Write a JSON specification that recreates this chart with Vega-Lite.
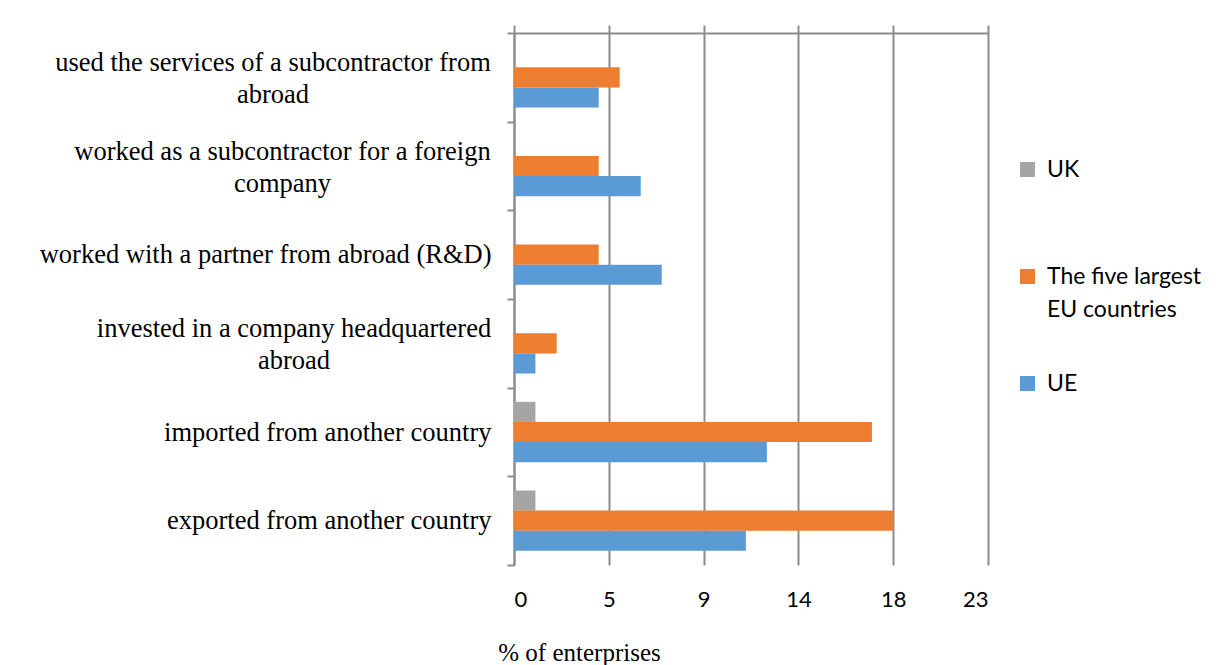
{
  "$schema": "https://vega.github.io/schema/vega-lite/v6.json",
  "width": 474,
  "height": 532,
  "padding": {"left": 0, "top": 20, "right": 0, "bottom": 0},
  "background": "white",
  "data": {
    "values": [
      {"activity": "used the services of a subcontractor from abroad", "series": "The five largest EU countries", "value": 5.13},
      {"activity": "used the services of a subcontractor from abroad", "series": "UE", "value": 4.11},
      {"activity": "worked as a subcontractor for a foreign company", "series": "The five largest EU countries", "value": 4.11},
      {"activity": "worked as a subcontractor for a foreign company", "series": "UE", "value": 6.15},
      {"activity": "worked with a partner from abroad (R&D)", "series": "The five largest EU countries", "value": 4.11},
      {"activity": "worked with a partner from abroad (R&D)", "series": "UE", "value": 7.17},
      {"activity": "invested in a company headquartered abroad", "series": "The five largest EU countries", "value": 2.07},
      {"activity": "invested in a company headquartered abroad", "series": "UE", "value": 1.04},
      {"activity": "imported from another country", "series": "UK", "value": 1.04},
      {"activity": "imported from another country", "series": "The five largest EU countries", "value": 17.37},
      {"activity": "imported from another country", "series": "UE", "value": 12.27},
      {"activity": "exported from another country", "series": "UK", "value": 1.04},
      {"activity": "exported from another country", "series": "The five largest EU countries", "value": 18.41},
      {"activity": "exported from another country", "series": "UE", "value": 11.25}
    ]
  },
  "layer": [
    {
      "mark": {"type": "bar"},
      "encoding": {
        "y": {
          "field": "activity",
          "type": "nominal",
          "sort": [
            "used the services of a subcontractor from abroad",
            "worked as a subcontractor for a foreign company",
            "worked with a partner from abroad (R&D)",
            "invested in a company headquartered abroad",
            "imported from another country",
            "exported from another country"
          ],
          "scale": {"paddingInner": 0, "paddingOuter": 0},
          "axis": {
            "title": null,
            "grid": false,
            "labelFont": "Liberation Serif",
            "labelFontSize": 26.5,
            "labelColor": "#000000",
            "labelLimit": 700,
            "labelLineHeight": 32,
            "labelAlign": {
              "condition": {
                "test": "datum.value == 'used the services of a subcontractor from abroad' || datum.value == 'worked as a subcontractor for a foreign company' || datum.value == 'invested in a company headquartered abroad'",
                "value": "center"
              },
              "value": "right"
            },
            "labelPadding": {
              "condition": [
                {"test": "datum.value == 'used the services of a subcontractor from abroad'", "value": 234.5},
                {"test": "datum.value == 'worked as a subcontractor for a foreign company'", "value": 225},
                {"test": "datum.value == 'invested in a company headquartered abroad'", "value": 213.5}
              ],
              "value": 16
            },
            "labelOffset": {
              "condition": {
                "test": "datum.value == 'used the services of a subcontractor from abroad' || datum.value == 'worked as a subcontractor for a foreign company' || datum.value == 'invested in a company headquartered abroad'",
                "value": -15
              },
              "value": 0
            },
            "tickSize": 7,
            "tickBand": "extent",
            "tickColor": "#8c8c8c",
            "tickWidth": 2,
            "domainColor": "#8c8c8c",
            "domainWidth": 2,
            "minExtent": 514,
            "maxExtent": 514,
            "labelExpr": "datum.label == 'used the services of a subcontractor from abroad' ? ['used the services of a subcontractor from', 'abroad'] : datum.label == 'worked as a subcontractor for a foreign company' ? ['worked as a subcontractor for a foreign', 'company'] : datum.label == 'invested in a company headquartered abroad' ? ['invested in a company headquartered', 'abroad'] : datum.label"
          }
        },
        "yOffset": {
          "field": "series",
          "type": "nominal",
          "sort": ["UK", "The five largest EU countries", "UE"],
          "scale": {"paddingInner": 0, "paddingOuter": 0.705}
        },
        "x": {
          "field": "value",
          "type": "quantitative",
          "scale": {"domain": [0, 23], "nice": false, "zero": true},
          "axis": {
            "orient": "bottom",
            "values": [0, 4.6, 9.2, 13.8, 18.4, 23],
            "format": ".0f",
            "domain": false,
            "ticks": false,
            "tickSize": 0,
            "labelPadding": 24,
            "labelFont": "Lato",
            "labelFontSize": 22,
            "labelColor": "#000000",
            "grid": true,
            "gridColor": "#8c8c8c",
            "gridWidth": 2,
            "title": "% of enterprises",
            "titleFont": "Liberation Serif",
            "titleFontSize": 25,
            "titleFontWeight": "normal",
            "titleColor": "#000000",
            "titleX": 65,
            "titleY": 87,
            "titleAlign": "center",
            "titleBaseline": "middle"
          }
        },
        "color": {
          "field": "series",
          "type": "nominal",
          "scale": {
            "domain": ["UK", "The five largest EU countries", "UE"],
            "range": ["#A5A5A5", "#ED7D31", "#5B9BD5"]
          },
          "legend": {
            "title": null,
            "orient": "none",
            "legendX": 502,
            "legendY": 125,
            "padding": 0,
            "symbolType": "square",
            "symbolSize": 225,
            "symbolStrokeWidth": 0,
            "labelFont": "Lato",
            "labelFontSize": 23,
            "labelColor": "#000000",
            "labelOffset": 8,
            "labelLimit": 300,
            "rowPadding": 50,
            "labelExpr": "datum.label == 'The five largest EU countries' ? ['The five largest', 'EU countries'] : [datum.label, '']",
            "encode": {"labels": {"update": {"lineHeight": {"value": 33}}}}
          }
        }
      }
    },
    {
      "mark": {"type": "rule", "opacity": 0},
      "encoding": {
        "x": {
          "field": "value",
          "type": "quantitative",
          "scale": {"domain": [0, 23], "nice": false, "zero": true},
          "axis": {
            "orient": "top",
            "values": [0, 4.6, 9.2, 13.8, 18.4, 23],
            "labels": false,
            "grid": false,
            "domain": true,
            "domainColor": "#8c8c8c",
            "domainWidth": 2,
            "ticks": true,
            "tickSize": 8,
            "tickColor": "#8c8c8c",
            "tickWidth": 2,
            "title": null
          }
        }
      }
    }
  ],
  "resolve": {"axis": {"x": "independent"}},
  "config": {"view": {"stroke": null}}
}
